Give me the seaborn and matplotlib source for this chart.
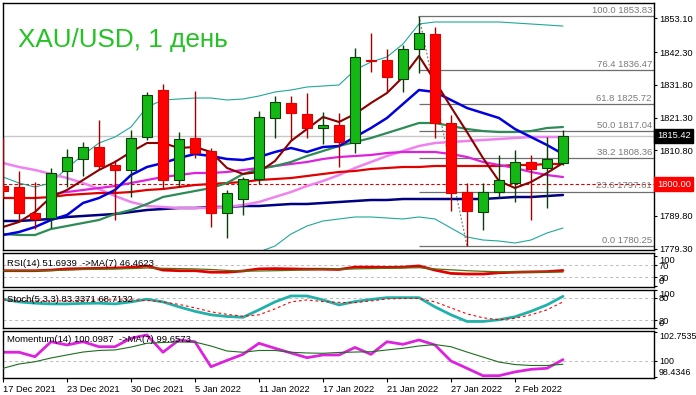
import numpy as np
import pandas as pd
import matplotlib
matplotlib.use("Agg")
import matplotlib.pyplot as plt
import seaborn as sns

# ---------------- data ----------------
date_labels = ['17 Dec 2021', '23 Dec 2021', '30 Dec 2021', '5 Jan 2022', '11 Jan 2022',
               '17 Jan 2022', '21 Jan 2022', '27 Jan 2022', '2 Feb 2022']
date_label_bars = [0, 4, 8, 12, 16, 20, 24, 28, 32]

opens = [1799.40, 1799.08, 1790.75, 1789.16, 1804.20, 1808.05, 1811.89, 1806.13, 1804.53, 1815.09,
         1830.14, 1801.32, 1814.77, 1810.61, 1790.75, 1795.24, 1801.64, 1821.17, 1825.97, 1822.45,
         1817.97, 1818.93, 1813.17, 1839.75, 1839.75, 1833.66, 1843.27, 1848.07, 1819.57, 1797.47,
         1791.08, 1797.47, 1800.36, 1807.09, 1805.17, 1806.77]
highs = [1814.77, 1804.20, 1800.68, 1805.17, 1811.24, 1813.49, 1820.54, 1807.73, 1817.33, 1829.50,
         1832.06, 1816.69, 1829.82, 1811.57, 1798.12, 1802.28, 1823.41, 1828.22, 1828.22, 1829.18,
         1823.09, 1822.77, 1843.59, 1848.39, 1843.27, 1844.55, 1853.83, 1850.31, 1822.13, 1800.36,
         1800.36, 1809.33, 1810.93, 1809.33, 1815.09, 1817.33]
lows = [1795.56, 1788.51, 1785.63, 1785.95, 1799.08, 1802.60, 1804.85, 1788.51, 1795.88, 1814.13,
        1798.76, 1799.08, 1808.37, 1786.27, 1782.75, 1790.11, 1800.04, 1814.77, 1814.13, 1814.77,
        1812.85, 1805.49, 1809.97, 1835.90, 1829.50, 1829.50, 1835.50, 1814.77, 1791.40, 1780.25,
        1785.31, 1795.56, 1794.28, 1788.51, 1792.36, 1806.00]
closes = [1797.80, 1790.75, 1788.84, 1803.56, 1808.68, 1811.89, 1805.81, 1804.53, 1814.77, 1828.54,
          1801.32, 1814.45, 1809.97, 1790.75, 1797.15, 1801.64, 1821.49, 1826.29, 1822.77, 1817.97,
          1818.93, 1813.49, 1840.71, 1839.43, 1834.30, 1843.27, 1848.39, 1819.57, 1797.15, 1791.40,
          1797.47, 1801.32, 1807.09, 1804.85, 1808.05, 1815.42]

ma_maroon = [1786.27, 1787.88, 1791.08, 1795.88, 1798.12, 1801.32, 1804.53, 1807.09, 1810.29, 1813.17,
             1813.17, 1811.57, 1811.89, 1810.29, 1805.17, 1803.25, 1803.89, 1807.41, 1813.81, 1817.65,
             1821.50, 1819.90, 1822.46, 1825.98, 1829.18, 1834.30, 1841.03, 1833.02, 1824.70, 1816.69,
             1808.37, 1801.00, 1798.76, 1800.68, 1803.57, 1806.77]
ma_blue = [1783.71, 1784.67, 1786.27, 1788.52, 1790.12, 1793.96, 1795.56, 1798.12, 1802.92, 1805.49,
           1806.77, 1808.37, 1809.65, 1809.01, 1808.05, 1807.73, 1808.69, 1810.29, 1811.57, 1810.29,
           1811.89, 1812.21, 1815.09, 1817.97, 1821.18, 1825.66, 1830.14, 1829.50, 1826.94, 1824.38,
           1822.78, 1821.18, 1817.65, 1815.09, 1812.53, 1809.65]
ma_green = [1784.03, 1783.71, 1783.71, 1785.63, 1786.59, 1787.56, 1788.52, 1790.44, 1791.72, 1793.64,
            1795.88, 1796.84, 1797.80, 1798.76, 1800.36, 1803.25, 1804.85, 1805.81, 1807.09, 1809.01,
            1810.61, 1812.21, 1813.49, 1814.77, 1816.37, 1817.97, 1819.58, 1819.58, 1818.61, 1817.65,
            1817.01, 1816.69, 1816.69, 1817.01, 1817.97, 1818.29]
ma_magenta = [np.nan, np.nan, np.nan, 1796.84, 1797.48, 1798.12, 1798.76, 1799.40, 1800.36, 1801.32,
              1802.28, 1802.92, 1803.57, 1803.57, 1803.89, 1804.53, 1805.17, 1805.81, 1806.45, 1807.09,
              1808.05, 1808.69, 1809.01, 1809.33, 1809.97, 1810.29, 1810.29, 1810.29, 1809.65, 1808.69,
              1807.09, 1806.13, 1805.17, 1803.89, 1802.92, 1802.28]
ma_violet = [1806.77, 1805.49, 1804.53, 1803.25, 1801.97, 1800.36, 1798.44, 1796.20, 1794.28, 1793.00,
             1792.68, 1792.36, 1792.36, 1792.36, 1792.68, 1793.32, 1794.28, 1795.88, 1797.48, 1799.40,
             1801.00, 1802.92, 1805.17, 1807.09, 1809.01, 1810.61, 1812.21, 1813.17, 1813.49, 1813.81,
             1814.13, 1814.45, 1814.77, 1815.09, 1815.09, 1815.09]
ma_red = [1795.56, 1795.56, 1795.56, 1795.88, 1796.52, 1796.84, 1797.16, 1797.16, 1797.48, 1798.12,
          1798.44, 1799.08, 1799.72, 1800.04, 1800.36, 1800.68, 1801.32, 1801.64, 1801.96, 1802.60,
          1803.25, 1803.89, 1804.21, 1804.85, 1805.17, 1805.49, 1805.49, 1805.81, 1805.81, 1805.81,
          1805.81, 1805.81, 1806.13, 1806.13, 1806.45, 1806.45]
ma_navy = [1788.20, 1788.20, 1788.52, 1788.84, 1789.48, 1789.80, 1790.12, 1790.44, 1791.08, 1791.72,
           1792.04, 1792.36, 1792.36, 1792.68, 1792.68, 1793.00, 1793.00, 1793.32, 1793.64, 1793.64,
           1793.96, 1794.28, 1794.60, 1794.92, 1794.92, 1795.24, 1795.24, 1795.24, 1795.24, 1795.24,
           1795.24, 1795.56, 1795.88, 1795.88, 1796.20, 1796.52]
bb_upper = [1802.28, 1800.36, 1799.08, 1800.36, 1805.17, 1809.33, 1813.17, 1815.09, 1818.29, 1824.70,
            1826.94, 1827.26, 1827.58, 1827.58, 1826.94, 1827.26, 1828.22, 1829.50, 1830.14, 1831.10,
            1831.42, 1831.74, 1836.55, 1839.11, 1840.71, 1844.87, 1851.28, 1851.92, 1851.92, 1851.92,
            1851.92, 1851.92, 1851.60, 1851.28, 1850.95, 1850.63]
bb_lower = [1765.78, 1767.06, 1768.34, 1770.90, 1768.02, 1765.78, 1763.86, 1765.78, 1765.14, 1762.58,
            1764.82, 1766.42, 1768.02, 1769.94, 1773.79, 1776.99, 1778.27, 1780.19, 1784.03, 1786.59,
            1788.20, 1788.84, 1789.48, 1789.48, 1789.16, 1788.84, 1789.48, 1788.84, 1785.95, 1783.07,
            1782.11, 1781.79, 1781.15, 1782.11, 1784.35, 1785.95]

price_ticks = [1853.10, 1842.30, 1831.80, 1821.30, 1810.80, 1789.80, 1779.30]
last_price = 1815.42
level_price = 1800.00

fib_pcts = [100.0, 76.4, 61.8, 50.0, 38.2, 23.6, 0.0]
fib_prices = [1853.83, 1836.47, 1825.72, 1817.04, 1808.36, 1797.61, 1780.25]
fib_high_bar = 26
fib_low_bar = 29

rsi = [51, 51, 51, 53, 57, 58, 59, 60, 62, 67, 53, 51, 51, 46, 46, 50, 57, 58, 57, 56,
       56, 55, 63, 63, 62, 63, 67, 53, 42, 40, 40, 44, 46, 47, 48, 51.69]
rsi_ma = [51, 51, 51, 52, 53, 55, 56, 57, 58, 60, 59, 58, 57, 55, 52, 50, 50, 51, 52, 54,
          56, 56, 57, 58, 59, 60, 61, 57, 54, 51, 49, 47.5, 47, 46.5, 46.4, 46.46]
stoch_k = [75.7, 68.7, 65.3, 63.4, 63.4, 64.8, 65.3, 63.4, 68.7, 75.7, 68.7, 55.6, 43.9, 34.7, 30.3,
           28.2, 47.8, 68.7, 84.3, 84.3, 73.9, 60.8, 69.5, 75.2, 79.9, 79.9, 79.9, 55.6, 34.7, 17.2,
           17.2, 21.7, 29.5, 43.9, 60.8, 83.34]
stoch_d = [73.9, 72.6, 71.3, 71.3, 71.3, 72.6, 73.9, 73.9, 73.9, 72.6, 68.7, 62.1, 53.0, 42.6, 36.0,
           30.8, 34.7, 50.4, 68.7, 73.9, 69.5, 67.4, 66.8, 71.3, 76.5, 77.8, 77.8, 68.7, 53.0, 37.3,
           26.9, 21.7, 25.6, 34.7, 47.8, 68.71]
momentum = [100.81, 100.81, 100.38, 101.82, 101.51, 101.82, 101.34, 101.34, 102.15, 102.47,
            100.81, 101.99, 101.82, 99.42, 100.03, 100.61, 101.67, 101.19, 100.74, 100.29,
            100.55, 100.55, 101.27, 100.61, 101.82, 101.57, 101.99, 101.51, 99.97, 99.27,
            98.56, 98.56, 98.92, 99.17, 99.27, 100.10]
momentum_ma = [99.27, 99.68, 99.90, 100.26, 100.55, 100.83, 100.98, 101.03, 101.31, 101.67,
               101.75, 101.79, 101.79, 101.41, 100.93, 100.81, 100.98, 100.98, 100.81, 100.74,
               100.71, 100.79, 100.83, 100.86, 101.03, 101.19, 101.41, 101.55, 101.34, 100.83,
               100.35, 99.87, 99.63, 99.54, 99.54, 99.66]
mom_max = 102.7535
mom_min = 98.4346

# ---------------- style ----------------
sns.set_theme(style="white")
plt.rcParams['font.family'] = ['Liberation Sans', 'DejaVu Sans']
plt.rcParams['axes.edgecolor'] = 'black'
plt.rcParams['axes.linewidth'] = 1.0

W, H = 696, 395
fig = plt.figure(figsize=(W / 100, H / 100), dpi=100)
fig.patch.set_facecolor('white')


def rect(x0, y0, x1, y1):
    return [x0 / W, 1 - y1 / H, (x1 - x0) / W, (y1 - y0) / H]


ax = fig.add_axes(rect(3, 3, 654, 250))
ax_rsi = fig.add_axes(rect(3, 253, 654, 287))
ax_st = fig.add_axes(rect(3, 290, 654, 328))
ax_mo = fig.add_axes(rect(3, 331, 654, 378))

n = len(closes)
bars = np.arange(n)
XMAX = 40.69
FS = 6.8
TFS = 6.7

df = pd.DataFrame({
    'bar': bars, 'open': opens, 'high': highs, 'low': lows, 'close': closes,
    'maroon': ma_maroon, 'blue': ma_blue, 'green': ma_green, 'magenta': ma_magenta,
    'violet': ma_violet, 'red': ma_red, 'navy': ma_navy, 'bbu': bb_upper, 'bbl': bb_lower,
    'rsi': rsi, 'rsi_ma': rsi_ma, 'k': stoch_k, 'd': stoch_d,
    'mom': momentum, 'mom_ma': momentum_ma,
})

# ---------------- main panel ----------------
ax.axhline(last_price, color='#C8C8C8', lw=1.0, zorder=1)
ax.axhline(level_price, color='#E00000', lw=0.8, ls=(0, (3, 2)), zorder=1)

line_specs = [
    ('bbu', '#20A898', 0.8), ('bbl', '#20A898', 0.8),
    ('navy', '#000080', 1.8), ('violet', '#EE82EE', 1.8), ('red', '#E00000', 1.6),
    ('magenta', '#DD22DD', 1.6), ('green', '#2E8B57', 1.6), ('blue', '#0000E0', 1.8),
    ('maroon', '#8B0000', 1.5),
]
for col, c, lw in line_specs:
    sns.lineplot(data=df, x='bar', y=col, ax=ax, color=c, lw=lw, estimator=None,
                 legend=False, zorder=2)

up = df['close'] >= df['open']
ax.vlines(df.loc[up, 'bar'], df.loc[up, 'low'], df.loc[up, 'high'], color='#0B3D0B', lw=1.0, zorder=3)
ax.vlines(df.loc[~up, 'bar'], df.loc[~up, 'low'], df.loc[~up, 'high'], color='#A00000', lw=1.0, zorder=3)
body = (df['close'] - df['open']).abs().clip(lower=0.3)
bottom = df[['open', 'close']].min(axis=1)
ax.bar(df.loc[up, 'bar'], body[up], bottom=bottom[up], width=0.62, color='#14B814',
       edgecolor='#0B3D0B', lw=0.8, zorder=4)
ax.bar(df.loc[~up, 'bar'], body[~up], bottom=bottom[~up], width=0.62, color='#FF0000',
       edgecolor='#E00000', lw=0.8, zorder=4)

# Fibonacci
ax.hlines(fib_prices, fib_high_bar, XMAX, colors='#6E6E6E', lw=0.9, zorder=1.5)
ax.plot([fib_high_bar, fib_low_bar], [fib_prices[0], fib_prices[-1]], ls=(0, (1.5, 1.5)),
        color='#808080', lw=0.9, zorder=1.6)
for pct, p in zip(fib_pcts, fib_prices):
    ax.annotate(f'{pct:.1f} {p:.2f}', xy=(XMAX, p), xytext=(-1.5, 0.8), textcoords='offset points',
                ha='right', va='bottom', color='#7A7A7A', fontsize=FS, zorder=5)

ax.set_xlim(0, XMAX)
ax.set_ylim(1778.91, 1858.00)
ax.set_xlabel('')
ax.set_ylabel('')
ax.set_xticks([])
ax.yaxis.tick_right()
ax.set_yticks(price_ticks)
ax.set_yticklabels([f'{v:.2f}' for v in price_ticks])
ax.tick_params(axis='y', which='both', right=True, direction='out', length=2.4, width=0.8,
               labelsize=TFS, pad=1.2, colors='black')

ax.annotate(f'{last_price:.2f}', xy=(1.0, last_price), xycoords=ax.get_yaxis_transform(),
            xytext=(2.0, 0), textcoords='offset points', ha='left', va='center', color='white',
            fontsize=TFS, bbox=dict(boxstyle='square,pad=0.25', fc='black', ec='black'),
            annotation_clip=False, zorder=6)
ax.annotate(f'{level_price:.2f}', xy=(1.0, level_price), xycoords=ax.get_yaxis_transform(),
            xytext=(2.0, 0), textcoords='offset points', ha='left', va='center', color='white',
            fontsize=TFS, bbox=dict(boxstyle='square,pad=0.25', fc='#FF0000', ec='#FF0000'),
            annotation_clip=False, zorder=6)

fig.text(18 / W, 1 - 46.5 / H, 'XAU/USD, 1 день', color='#22C322', fontsize=18.8,
         ha='left', va='baseline')


def sub_setup(a, ylim, ticks, labels, fs=TFS):
    a.set_xlim(0, XMAX)
    a.set_ylim(*ylim)
    a.set_xlabel('')
    a.set_ylabel('')
    a.yaxis.tick_right()
    a.set_yticks(ticks)
    a.set_yticklabels(labels)
    a.tick_params(axis='y', right=True, direction='out', length=2.4, width=0.8, labelsize=fs,
                  pad=1.2, colors='black')
    tl = a.get_yticklabels()
    tl[0].set_va('top')
    tl[-1].set_va('bottom')
    for s in a.spines.values():
        s.set_color('black')
        s.set_linewidth(1.0)


# ---------------- RSI ----------------
for lv in (70, 30):
    ax_rsi.axhline(lv, color='#BBBBBB', lw=0.7, ls=(0, (3, 3)), zorder=1)
sns.lineplot(data=df, x='bar', y='rsi', ax=ax_rsi, color='#E00000', lw=2.0, estimator=None,
             legend=False, zorder=2)
sns.lineplot(data=df, x='bar', y='rsi_ma', ax=ax_rsi, color='#5A6E10', lw=0.9, estimator=None,
             legend=False, zorder=3)
sub_setup(ax_rsi, (-3.3, 110), [100, 70, 30, 0], ['100', '70', '30', '0'])
ax_rsi.set_xticks([])
ax_rsi.text(0.006, 0.70, 'RSI(14) 51.6939  ->MA(7) 46.4623', transform=ax_rsi.transAxes,
            fontsize=FS, va='center', ha='left', color='black', zorder=5)

# ---------------- Stochastic ----------------
for lv in (80, 20):
    ax_st.axhline(lv, color='#BBBBBB', lw=0.7, ls=(0, (3, 3)), zorder=1)
sns.lineplot(data=df, x='bar', y='k', ax=ax_st, color='#20B2AA', lw=2.0, estimator=None,
             legend=False, zorder=2)
sns.lineplot(data=df, x='bar', y='d', ax=ax_st, color='#FF0000', lw=0.8, estimator=None,
             legend=False, zorder=3)
ax_st.lines[-1].set_linestyle((0, (2.5, 2.5)))
sub_setup(ax_st, (0.8, 100), [100, 80, 20, 0], ['100', '80', '20', '0'])
ax_st.set_xticks([])
ax_st.text(0.006, 0.76, 'Stoch(5,3,3) 83.3371 68.7132', transform=ax_st.transAxes,
           fontsize=FS, va='center', ha='left', color='black', zorder=5)

# ---------------- Momentum ----------------
ax_mo.axhline(100, color='#BBBBBB', lw=0.7, ls=(0, (3, 3)), zorder=1)
sns.lineplot(data=df, x='bar', y='mom', ax=ax_mo, color='#DD22DD', lw=2.0, estimator=None,
             legend=False, zorder=2)
sns.lineplot(data=df, x='bar', y='mom_ma', ax=ax_mo, color='#1E6E1E', lw=0.8, estimator=None,
             legend=False, zorder=3)
pad = 1 / 10.42
sub_setup(ax_mo, (mom_min - pad, mom_max + pad), [mom_max, 100, mom_min],
          [f'{mom_max:.4f}', '100', f'{mom_min:.4f}'], fs=6.4)
ax_mo.text(0.006, 0.82, 'Momentum(14) 100.0987  ->MA(7) 99.6573', transform=ax_mo.transAxes,
           fontsize=FS, va='center', ha='left', color='black', zorder=5)
ax_mo.set_xticks(date_label_bars)
ax_mo.set_xticklabels(date_labels, ha='left')
ax_mo.tick_params(axis='x', bottom=True, direction='out', length=3, width=0.8, labelsize=TFS,
                  pad=2, colors='black')

fig.savefig('out.png', dpi=100, facecolor='white')
